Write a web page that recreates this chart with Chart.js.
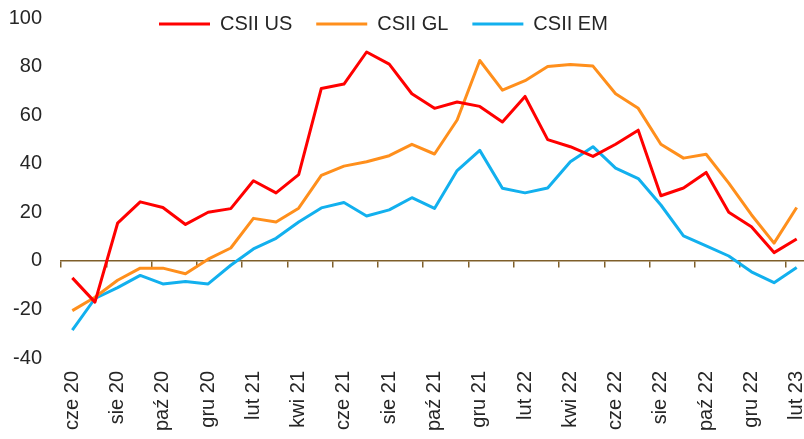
<!DOCTYPE html>
<html>
<head>
<meta charset="utf-8">
<script src="https://cdn.jsdelivr.net/npm/chart.js@4/dist/chart.umd.min.js"></script>
<style>
  html, body { margin: 0; padding: 0; overflow: hidden; background: #ffffff; }
  #wrap { width: 808px; height: 439px; }
</style>
</head>
<body>
<div id="wrap"><canvas id="c" width="808" height="439"></canvas></div>
<script>
const months = ['cze 20','lip 20','sie 20','wrz 20','paź 20','lis 20','gru 20',
  'sty 21','lut 21','mar 21','kwi 21','maj 21','cze 21','lip 21','sie 21','wrz 21','paź 21','lis 21','gru 21',
  'sty 22','lut 22','mar 22','kwi 22','maj 22','cze 22','lip 22','sie 22','wrz 22','paź 22','lis 22','gru 22',
  'sty 23','lut 23'];
const csiiUS = [-7, -17, 15.5, 24.3, 22, 15, 20, 21.5, 33, 28, 35.5, 71, 72.8, 86, 81, 68.8, 62.8, 65.4, 63.6, 57.2, 67.7, 49.9, 47, 43, 48, 53.8, 26.8, 30, 36.4, 20, 14, 3.4, 9];
const csiiGL = [-20.5, -15, -8, -3, -3, -5.3, 0.7, 5.3, 17.5, 16, 21.7, 35.2, 39, 40.8, 43.3, 48, 44, 58, 82.5, 70.3, 74.2, 80, 80.9, 80.2, 68.8, 62.8, 48, 42.3, 43.9, 32, 19, 7.3, 22];
const csiiEM = [-28.5, -15.5, -11, -6, -9.5, -8.5, -9.5, -1.8, 4.9, 9.3, 16, 21.8, 24, 18.5, 21, 26, 21.6, 37.2, 45.5, 29.9, 28, 30, 40.8, 47, 38.2, 33.9, 23, 10.3, 6.2, 2, -4.5, -9, -2.7];
const yTicks = { min: -40, max: 100, step: 20 };

const FONT = "'Liberation Sans', Arial, sans-serif";
const TXT = '#262626';
const AXIS = '#7F5F2A';

const legendPlacer = {
  id: 'legendPlacer',
  afterLayout(chart) {
    const lg = chart.legend;
    if (!lg) return;
    lg.left = 135; lg.right = 804;
    lg.top = -10; lg.bottom = 60;
    lg.width = lg.right - lg.left;
    lg.height = lg.bottom - lg.top;
  }
};

function ds(label, data, color) {
  return {
    label, data,
    borderColor: color, backgroundColor: color,
    borderWidth: 3, pointRadius: 0, pointHoverRadius: 0,
    tension: 0, borderJoinStyle: 'round', fill: false
  };
}

new Chart(document.getElementById('c'), {
  type: 'line',
  data: {
    labels: months,
    datasets: [
      ds('CSII US', csiiUS, '#FF0000'),
      ds('CSII GL', csiiGL, '#FF8F1C'),
      ds('CSII EM', csiiEM, '#12B0EE')
    ]
  },
  options: {
    responsive: false,
    animation: false,
    devicePixelRatio: 1,
    layout: { padding: { top: 17, left: 0, right: 0, bottom: 0 } },
    plugins: {
      tooltip: { enabled: false },
      legend: {
        display: true,
        position: 'top',
        align: 'start',
        maxHeight: 1,
        labels: {
          usePointStyle: true,
          pointStyle: 'line',
          pointStyleWidth: 51,
          padding: 24,
          color: TXT,
          font: { family: FONT, size: 20 }
        }
      }
    },
    scales: {
      x: {
        type: 'category',
        offset: true,
        grid: { display: false, drawTicks: false, offset: true },
        border: { display: false },
        ticks: {
          autoSkip: false,
          maxRotation: 90,
          minRotation: 90,
          padding: 13,
          color: TXT,
          font: { family: FONT, size: 20 },
          callback: function (v, i) { return i % 2 === 0 ? this.getLabelForValue(v) : ''; }
        },
        afterFit: (s) => { s.height = 81; s.paddingLeft = 0; s.paddingRight = 0; }
      },
      x0: {
        type: 'category',
        axis: 'x',
        position: { y: 0 },
        offset: true,
        grid: {
          display: true,
          offset: true,
          drawOnChartArea: false,
          drawTicks: true,
          tickLength: 6,
          lineWidth: 1.5,
          color: (ctx) => (ctx.index % 2 === 0 ? AXIS : 'rgba(0,0,0,0)')
        },
        border: { display: true, color: AXIS, width: 1.5 },
        ticks: { display: false, autoSkip: false },
        afterFit: (s) => { s.paddingLeft = 0; s.paddingRight = 0; }
      },
      y: {
        min: yTicks.min,
        max: yTicks.max,
        grid: { display: false, drawTicks: false },
        border: { display: false },
        ticks: {
          stepSize: yTicks.step,
          padding: 19,
          color: TXT,
          font: { family: FONT, size: 20 }
        },
        afterFit: (s) => { s.width = 61; s.paddingTop = 0; s.paddingBottom = 0; }
      }
    }
  },
  plugins: [legendPlacer]
});
</script>
</body>
</html>
